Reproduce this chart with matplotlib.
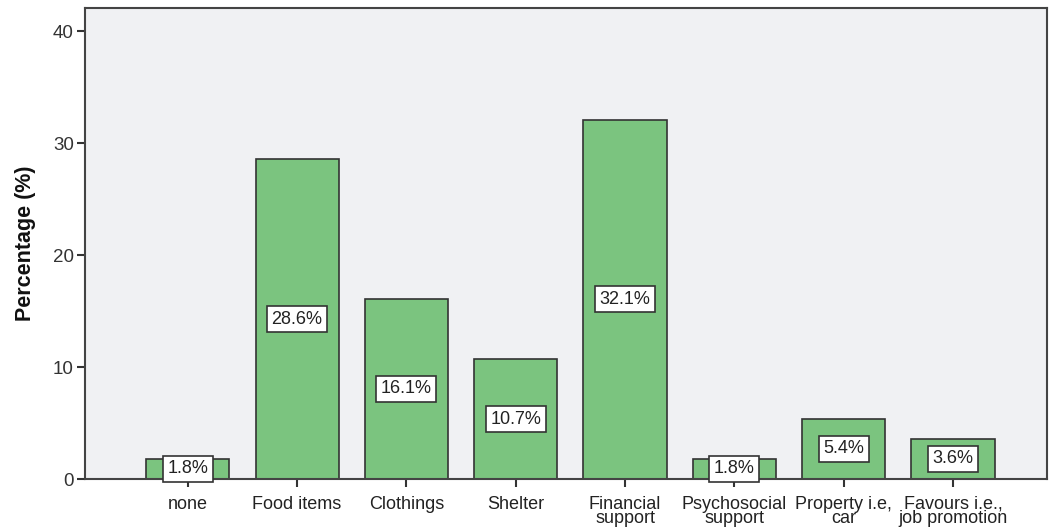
import matplotlib
matplotlib.use("Agg")
import matplotlib.pyplot as plt

categories = ['none', 'Food items', 'Clothings', 'Shelter', 'Financial\nsupport',
              'Psychosocial\nsupport', 'Property i.e,\ncar', 'Favours i.e.,\njob promotion']
values = [1.8, 28.6, 16.1, 10.7, 32.1, 1.8, 5.4, 3.6]

plt.rcParams['font.family'] = ['Liberation Sans', 'DejaVu Sans']

fig = plt.figure(figsize=(10.58, 5.30), dpi=100)
ax = fig.add_axes([0.0803, 0.0962, 0.9093, 0.8888])
ax.set_facecolor('#f0f1f3')

x = list(range(len(values)))
ax.bar(x, values, width=0.76, color='#7bc47f', edgecolor='#333333', linewidth=1.2, zorder=2)

for xi, v in zip(x, values):
    ax.text(xi, v / 2, '%.1f%%' % v, ha='center', va='center', fontsize=13, color='#222222',
            bbox=dict(boxstyle='square,pad=0.25', facecolor='white', edgecolor='#333333', linewidth=1.2),
            zorder=3)

ax.set_xlim(-0.94, 7.86)
ax.set_ylim(0, 42.1)
ax.set_yticks([0, 10, 20, 30, 40])
ax.set_xticks(x)
ax.set_xticklabels(categories, fontsize=13, linespacing=0.8, color='#222222')
ax.tick_params(axis='y', labelsize=13.5, colors='#333333', length=6, width=1.5, pad=2)
ax.tick_params(axis='x', length=6, width=1.5, colors='#333333', pad=6)
for lbl in ax.get_xticklabels():
    lbl.set_color('#222222')
for s in ax.spines.values():
    s.set_color('#444444')
    s.set_linewidth(1.5)

ax.set_ylabel('Percentage (%)', fontsize=15.5, fontweight='bold', labelpad=12, color='#111111')

fig.savefig('out.png', dpi=100)
